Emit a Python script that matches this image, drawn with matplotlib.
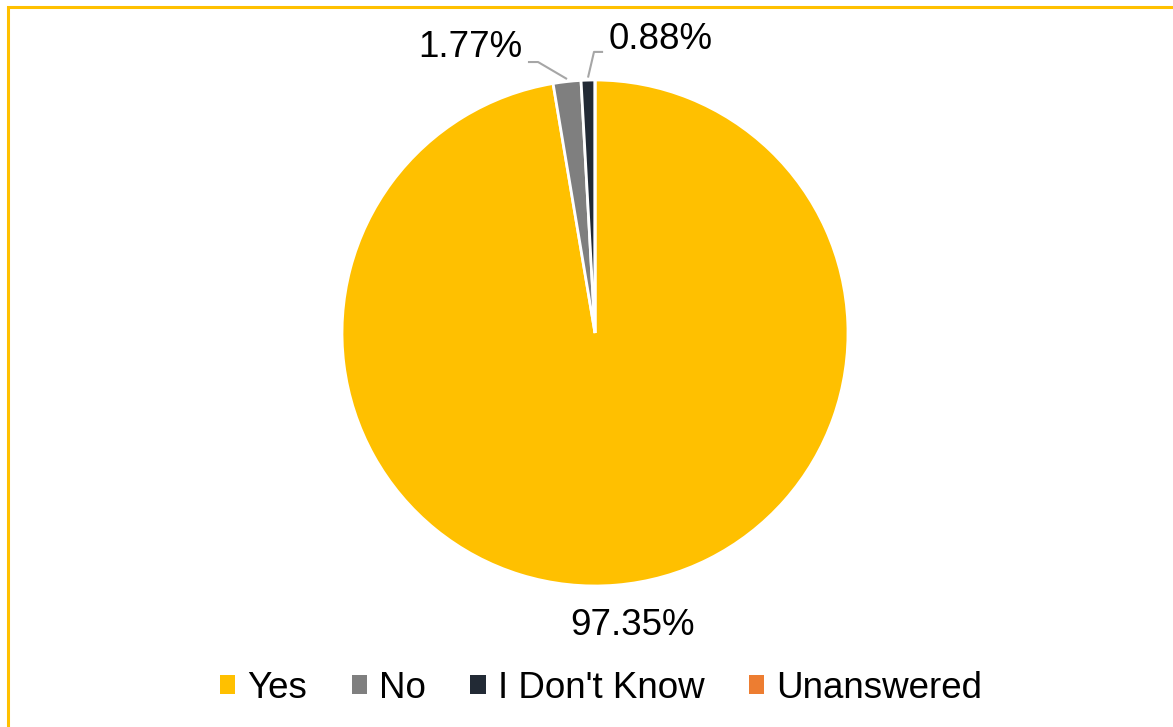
import matplotlib.pyplot as plt
import numpy as np
from matplotlib.patches import Patch, Rectangle

plt.rcParams['font.family'] = ['Liberation Sans', 'DejaVu Sans']

categories = ['Yes', 'No', "I Don't Know", 'Unanswered']
shares = [97.35, 1.77, 0.88, 0.0]
label_text = ['97.35%', '1.77%', '0.88%', '']
colors = ['#FFC000', '#7F7F7F', '#222A35', '#ED7D31']

W, H = 1173, 727
fig = plt.figure(figsize=(W / 100, H / 100), dpi=100)

# pie centred at (595, 333) px with radius 253 px
cx, cy, r = 595, 333, 253
ax = fig.add_axes([(cx - r) / W, (H - cy - r) / H, 2 * r / W, 2 * r / H])
wedges, _ = ax.pie(shares, colors=colors, startangle=90, counterclock=False,
                   radius=1, wedgeprops=dict(edgecolor='white', linewidth=2))
ax.set_xlim(-1, 1)
ax.set_ylim(-1, 1)
ax.set_aspect('equal')
ax.axis('off')

def mid_angle(w):
    return np.deg2rad((w.theta1 + w.theta2) / 2)

lead = '#A6A6A6'
fs = 26.5

# Yes label below the pie
ax.text(0.15, -1.155, label_text[0], fontsize=fs, ha='center', va='center',
        color='black', clip_on=False)

# No label with leader line
a = mid_angle(wedges[1])
ex, ey = np.cos(a), np.sin(a)
ax.plot([-0.265, -0.225, ex], [1.071, 1.071, ey + 0.01], color=lead, lw=1.5,
        clip_on=False, solid_capstyle='butt')
ax.text(-0.287, 1.128, label_text[1], fontsize=fs, ha='right', va='center',
        color='black', clip_on=False)

# I Don't Know label with leader line
a = mid_angle(wedges[2])
ex, ey = np.cos(a), np.sin(a)
ax.plot([0.032, -0.004, ex], [1.111, 1.111, ey + 0.01], color=lead, lw=1.5,
        clip_on=False, solid_capstyle='butt')
ax.text(0.055, 1.162, label_text[2], fontsize=fs, ha='left', va='center',
        color='black', clip_on=False)

handles = [Patch(facecolor=c, edgecolor='none') for c in colors]
fig.legend(handles, categories, loc='center', bbox_to_anchor=(601 / W, 1 - 688 / H),
           ncol=4, frameon=False, fontsize=fs, handlelength=0.42, handleheight=0.42,
           handletextpad=0.33, columnspacing=1.2, borderpad=0)

# outer frame
fig.add_artist(Rectangle((8 / W, -0.05), 1.2, 1.05 - 7 / H, transform=fig.transFigure,
                         fill=False, edgecolor='#FFC000', linewidth=2.2))

fig.savefig('out.png', dpi=100)
